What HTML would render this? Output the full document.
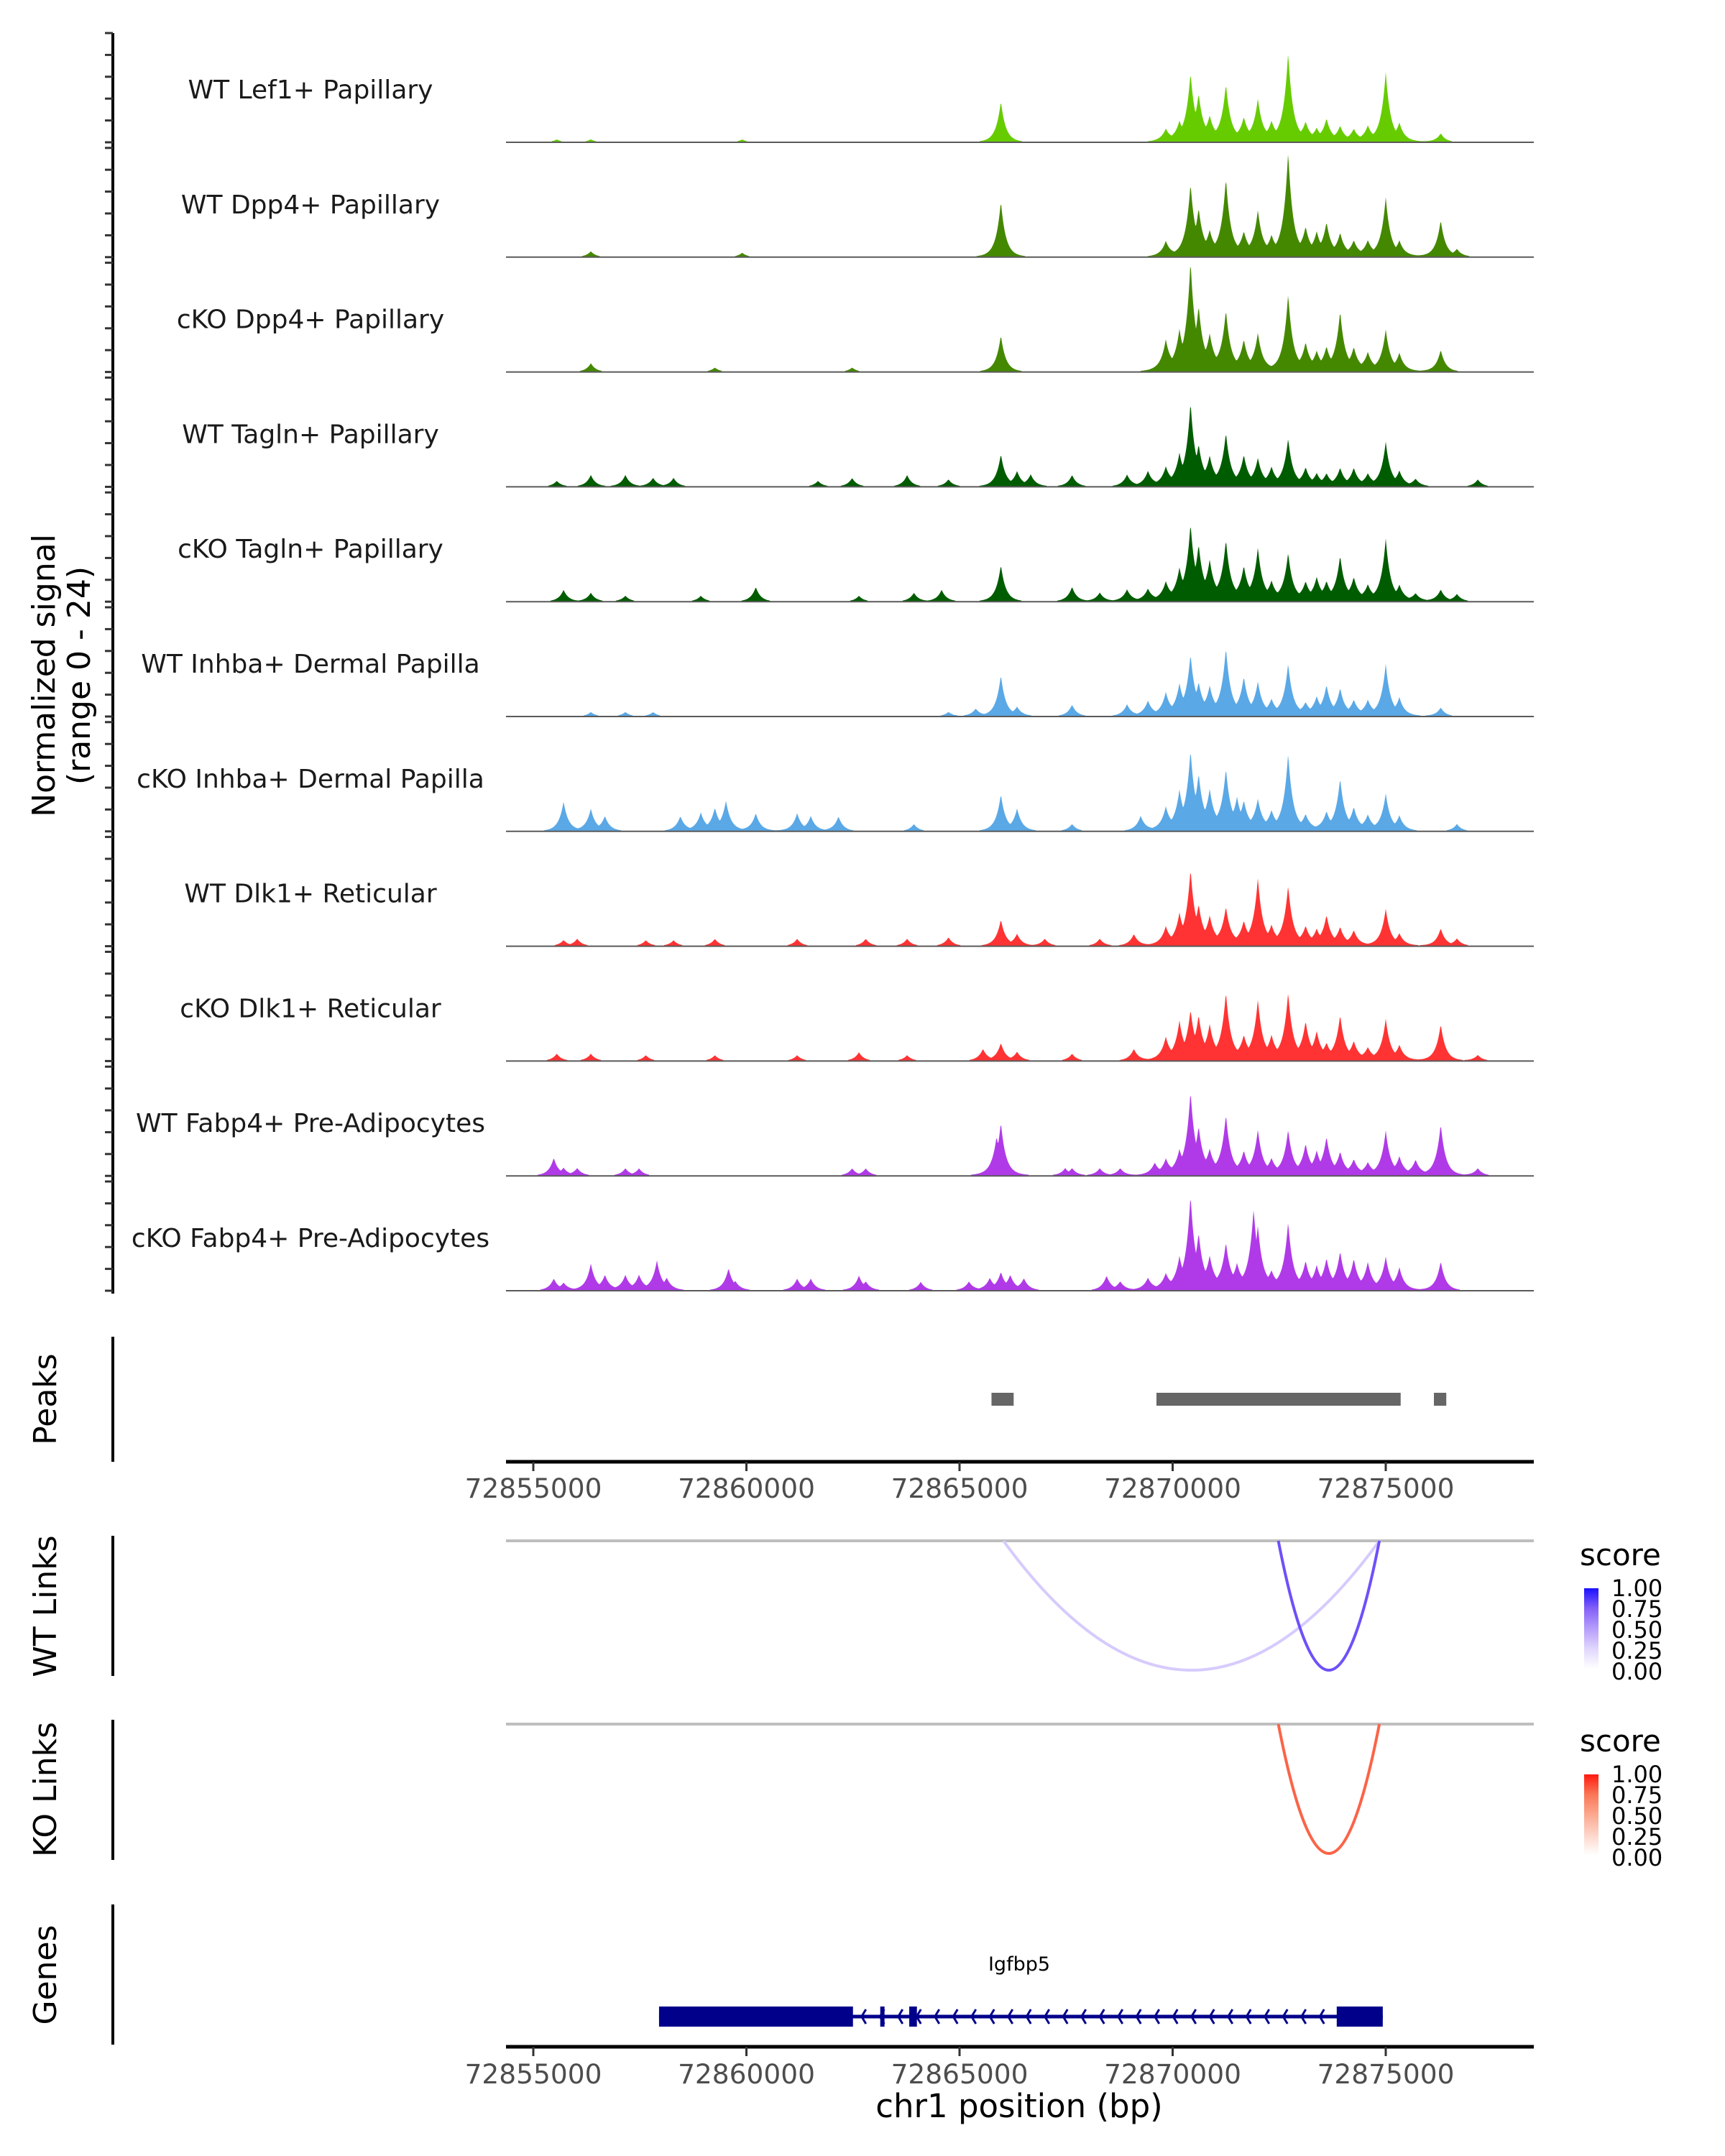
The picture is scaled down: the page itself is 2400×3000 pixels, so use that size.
<!DOCTYPE html>
<html><head><meta charset="utf-8">
<style>
html,body{margin:0;padding:0;background:#fff;}
svg{display:block;font-family:"DejaVu Sans","Liberation Sans",sans-serif;}
</style></head>
<body>
<svg id="chart" width="2400" height="3000" viewBox="0 0 2400 3000" xmlns="http://www.w3.org/2000/svg">
<rect x="0" y="0" width="2400" height="3000" fill="#fff"/>
<g id="tracks"></g>
<g id="yaxis"></g>
<text transform="translate(80,940) rotate(-90)" text-anchor="middle" font-size="44" fill="#000"><tspan x="0" dy="-4">Normalized signal</tspan><tspan x="0" dy="49">(range 0 - 24)</tspan></text>

<g>
<line x1="157" y1="1860" x2="157" y2="2034" stroke="#000" stroke-width="4"/>
<text transform="translate(66,1947) rotate(-90)" text-anchor="middle" font-size="44" dominant-baseline="middle">Peaks</text>
<g id="peaks"></g>
</g>
<g id="xaxis1"></g>

<g>
<line x1="157" y1="2137" x2="157" y2="2332" stroke="#000" stroke-width="4"/>
<text transform="translate(66,2235) rotate(-90)" text-anchor="middle" font-size="44" dominant-baseline="middle">WT Links</text>
<line x1="704" y1="2144" x2="2134" y2="2144" stroke="#bebebe" stroke-width="4"/>
<g id="wtlinks"></g>
</g>
<g>
<line x1="157" y1="2393" x2="157" y2="2588" stroke="#000" stroke-width="4"/>
<text transform="translate(66,2490) rotate(-90)" text-anchor="middle" font-size="44" dominant-baseline="middle">KO Links</text>
<line x1="704" y1="2399" x2="2134" y2="2399" stroke="#bebebe" stroke-width="4"/>
<g id="kolinks"></g>
</g>

<defs>
<linearGradient id="gblue" x1="0" y1="1" x2="0" y2="0">
<stop offset="0" stop-color="#ffffff"/><stop offset="0.25" stop-color="#e0d6fd"/><stop offset="0.5" stop-color="#b59dfc"/><stop offset="0.75" stop-color="#8460f8"/><stop offset="1" stop-color="#1a10ff"/>
</linearGradient>
<linearGradient id="gred" x1="0" y1="1" x2="0" y2="0">
<stop offset="0" stop-color="#ffffff"/><stop offset="0.25" stop-color="#fdd5c9"/><stop offset="0.5" stop-color="#fca88f"/><stop offset="0.75" stop-color="#fa7656"/><stop offset="1" stop-color="#ff1a10"/>
</linearGradient>
</defs>
<g>
<text x="2198" y="2178" font-size="42">score</text>
<rect x="2204" y="2210" width="20" height="112" fill="url(#gblue)"/>
<g font-size="32">
<text x="2242" y="2221">1.00</text><text x="2242" y="2250">0.75</text><text x="2242" y="2279">0.50</text><text x="2242" y="2308">0.25</text><text x="2242" y="2337">0.00</text>
</g>
</g>
<g>
<text x="2198" y="2437" font-size="42">score</text>
<rect x="2204" y="2469" width="20" height="112" fill="url(#gred)"/>
<g font-size="32">
<text x="2242" y="2480">1.00</text><text x="2242" y="2509">0.75</text><text x="2242" y="2538">0.50</text><text x="2242" y="2567">0.25</text><text x="2242" y="2596">0.00</text>
</g>
</g>

<g>
<line x1="157" y1="2650" x2="157" y2="2845" stroke="#000" stroke-width="4"/>
<text transform="translate(66,2748) rotate(-90)" text-anchor="middle" font-size="44" dominant-baseline="middle">Genes</text>
<g id="gene"></g>
</g>
<g id="xaxis2"></g>
<text x="1418" y="2946" text-anchor="middle" font-size="45">chr1 position (bp)</text>
</svg>
<script>
// ---- data ----
const xTicks = [72855000, 72860000, 72865000, 72870000, 72875000];
const trackNames = ["WT Lef1+ Papillary","WT Dpp4+ Papillary","cKO Dpp4+ Papillary","WT Tagln+ Papillary","cKO Tagln+ Papillary","WT Inhba+ Dermal Papilla","cKO Inhba+ Dermal Papilla","WT Dlk1+ Reticular","cKO Dlk1+ Reticular","WT Fabp4+ Pre-Adipocytes","cKO Fabp4+ Pre-Adipocytes"];
const trackColors = ["#66cc00","#448800","#448800","#005c00","#005c00","#5aa8e6","#5aa8e6","#ff3333","#ff3333","#b03ae8","#b03ae8"];
// peak positions (kb offset from 72855000) and heights (signal) per track
const pos0 = [0.55,1.35,4.9,10.97,14.84,15.16,15.42,15.61,15.87,16.25,16.67,17.0,17.32,17.71,18.12,18.38,18.61,18.93,19.25,19.58,20.0,20.32,21.29];
const val0 = [2,2,2,28,8,12,45,30,15,38,15,28,12,60,12,8,15,10,8,10,47,12,6];
const pos1 = [1.35,4.9,10.97,14.84,15.42,15.61,15.87,16.25,16.67,17.0,17.32,17.71,18.12,18.38,18.61,18.93,19.25,19.58,20.0,20.32,21.29,21.67];
const val1 = [4,3,38,10,48,30,15,52,15,30,12,70,18,15,22,15,10,10,40,10,25,5];
const pos2 = [1.35,4.26,7.48,10.97,14.84,15.16,15.42,15.61,15.87,16.25,16.67,17.0,17.71,18.12,18.38,18.61,18.93,19.25,19.58,20.0,20.32,21.29];
const val2 = [6,3,3,25,20,25,72,40,22,40,20,25,52,18,12,15,40,15,12,28,12,15];
const pos3 = [0.55,1.35,2.16,2.81,3.29,6.68,7.48,8.77,9.74,10.97,11.35,11.67,12.64,13.93,14.42,14.84,15.16,15.42,15.61,15.87,16.25,16.67,17.0,17.32,17.71,18.12,18.38,18.61,18.93,19.25,19.58,20.0,20.32,20.7,22.16];
const val3 = [4,8,8,6,6,4,6,8,5,22,10,8,8,8,10,12,20,55,25,18,35,20,18,12,32,12,8,8,12,12,8,30,10,5,5];
const pos4 = [0.71,1.35,2.16,3.93,5.22,7.64,8.93,9.58,10.97,12.64,13.29,13.93,14.42,14.84,15.16,15.42,15.61,15.87,16.25,16.67,17.0,17.32,17.71,18.12,18.38,18.61,18.93,19.25,19.58,20.0,20.32,20.7,21.29,21.67];
const val4 = [8,6,4,4,10,4,6,8,25,10,6,8,8,12,20,50,35,25,40,22,35,12,32,12,15,12,30,15,10,42,10,5,8,5];
const pos5 = [1.35,2.16,2.81,9.74,10.38,10.97,11.35,12.64,13.93,14.42,14.84,15.16,15.42,15.61,15.87,16.25,16.67,17.0,17.32,17.71,18.12,18.38,18.61,18.93,19.25,19.58,20.0,20.32,21.29];
const val5 = [3,3,3,3,5,28,6,8,8,10,15,20,40,20,18,45,25,22,10,35,8,12,20,18,10,10,35,12,6];
const pos6 = [0.71,1.35,1.68,3.45,3.93,4.26,4.52,5.22,6.19,6.51,7.16,8.93,10.97,11.35,12.64,14.25,14.84,15.16,15.42,15.61,15.87,16.25,16.51,16.67,17.0,17.32,17.71,18.12,18.61,18.93,19.25,19.58,20.0,20.32,21.67];
const val6 = [20,15,10,10,12,15,20,12,12,10,10,5,25,15,5,10,15,25,52,35,25,40,20,18,20,12,52,10,12,35,15,10,25,10,5];
const pos7 = [0.71,1.03,2.64,3.29,4.26,6.19,7.8,8.77,9.74,10.97,11.35,12.0,13.29,14.09,14.84,15.16,15.42,15.61,15.87,16.25,16.67,17.0,17.32,17.71,18.12,18.38,18.61,18.93,19.25,20.0,20.32,21.29,21.67];
const val7 = [4,5,4,4,5,5,5,5,6,18,8,5,5,8,12,20,50,25,18,25,15,45,12,40,12,10,20,12,10,25,8,12,5];
const pos8 = [0.55,1.35,2.64,4.26,6.19,7.64,8.77,10.55,10.97,11.35,12.64,14.09,14.84,15.16,15.42,15.61,15.87,16.25,16.67,17.0,17.32,17.71,18.12,18.38,18.61,18.93,19.25,19.58,20.0,20.32,21.29,22.16];
const val8 = [5,5,4,4,4,6,4,8,12,6,5,8,15,25,32,28,22,45,15,40,15,45,25,18,10,30,12,8,28,10,25,4];
const pos9 = [0.48,0.71,1.03,2.16,2.48,7.48,7.8,10.87,10.97,12.48,12.64,13.29,13.77,14.58,14.84,15.16,15.42,15.61,15.87,16.25,16.67,17.0,17.32,17.71,18.12,18.38,18.61,18.93,19.25,19.58,20.0,20.32,20.7,21.29,22.16];
const val9 = [12,5,5,5,5,5,5,25,35,5,5,5,5,8,10,15,55,30,15,40,15,30,10,30,20,15,25,15,10,8,30,12,10,35,5];
const pos10 = [0.48,0.71,1.35,1.68,2.16,2.48,2.9,3.13,4.58,4.74,6.19,6.51,7.64,7.8,9.09,10.22,10.71,10.97,11.19,11.51,13.45,13.77,14.42,14.84,15.16,15.42,15.61,15.87,16.25,16.51,16.9,17.0,17.32,17.71,18.12,18.38,18.61,18.93,19.25,19.58,20.0,20.32,21.29];
const val10 = [8,5,18,10,10,10,20,8,15,6,8,8,10,6,6,6,8,12,10,8,10,6,8,10,20,62,35,20,30,15,52,40,10,45,18,15,20,25,20,18,22,15,20];
const trackPos = [pos0,pos1,pos2,pos3,pos4,pos5,pos6,pos7,pos8,pos9,pos10];
const trackVal = [val0,val1,val2,val3,val4,val5,val6,val7,val8,val9,val10];
const peakStart = [72865750, 72869620, 72876130];
const peakEnd = [72866270, 72875350, 72876420];
const wtLinkStart = [72866030, 72872480];
const wtLinkEnd = [72874850, 72874850];
const wtLinkScore = [0.3, 0.8];
const koLinkStart = [72872480];
const koLinkEnd = [72874850];
const koLinkScore = [0.8];
const exonStart = [72857950, 72863140, 72863820, 72873850];
const exonEnd = [72862500, 72863240, 72864000, 72874930];
const geneStart = 72857950, geneEnd = 72874930, geneName = "Igfbp5";

// ---- scales ----
const NS = "http://www.w3.org/2000/svg";
const X0 = 704, X1 = 2134;
function xScale(bp){ return 742 + (bp - 72855000) * 0.0593; }
function xInv(px){ return 72855000 + (px - 742) / 0.0593; }
const yMax = 80, trackH = 152, base0 = 198, trackStep = 159.8;
function yScale(i, v){ return base0 + i*trackStep - Math.min(v, yMax)/yMax*trackH; }
function mk(tag, attrs, parent){ const e = document.createElementNS(NS, tag); for (const k in attrs) e.setAttribute(k, attrs[k]); parent.appendChild(e); return e; }

// ---- tracks ----
const tg = document.getElementById('tracks');
const ya = document.getElementById('yaxis');
const axl = mk('line', {x1:157, y1:46, x2:157, y2:1800, stroke:'#000', 'stroke-width':4}, ya);
for (let i = 0; i < trackNames.length; i++) {
  const b = base0 + i*trackStep;
  const g = mk('g', {}, tg);
  
  
  const lab = mk('text', {x:432, y:b-71, 'text-anchor':'middle', 'dominant-baseline':'middle', 'font-size':36, fill:'#1a1a1a'}, g);
  lab.textContent = trackNames[i];
  
  
  const P = trackPos[i], V = trackVal[i];
  let d = 'M' + X0 + ',' + b;
  for (let px = X0; px <= X1; px += 1) {
    const bp = xInv(px);
    let sharp = 0, broad = 0;
    for (let k = 0; k < P.length; k++) {
      const dist = Math.abs(bp - (72855000 + P[k]*1000));
      sharp = Math.max(sharp, V[k]*Math.exp(-dist/110));
      broad += V[k]*Math.exp(-dist/350);
    }
    let v = sharp + 0.08*broad;
    if (v < 0.8) v = 0;
    d += ' L' + px + ',' + yScale(i, v).toFixed(1);
  }
  d += ' L' + X1 + ',' + b + ' Z';
  const area = mk('path', {d:d, fill:trackColors[i]}, g);
  
  
  const bl = mk('line', {x1:X0, y1:b, x2:X1, y2:b, stroke:'#5a5a5a', 'stroke-width':2}, g);
  
  
  for (let t = 0; t <= 5; t++) {
    const ty = b - t*30.4;
    const tk = mk('line', {x1:146, y1:ty, x2:157, y2:ty, stroke:'#333', 'stroke-width':3}, ya);
    
    
  }
}

// ---- peaks ----
const pg = document.getElementById('peaks');
for (let i = 0; i < peakStart.length; i++) {
  const r = mk('rect', {x:xScale(peakStart[i]), y:1938, width:xScale(peakEnd[i])-xScale(peakStart[i]), height:18, fill:'#666'}, pg);
  
  
}

// ---- x axes ----
function drawAxis(gid, y, labY){
  const g = document.getElementById(gid);
  const l = mk('line', {x1:X0, y1:y, x2:X1, y2:y, stroke:'#000', 'stroke-width':5}, g);
  
  
  xTicks.forEach(t => {
    const x = xScale(t);
    const tk = mk('line', {x1:x, y1:y, x2:x, y2:y+13, stroke:'#333', 'stroke-width':3}, g);
    
    
    const tx = mk('text', {x:x, y:labY, 'text-anchor':'middle', 'font-size':37.5, fill:'#4d4d4d'}, g);
    tx.textContent = String(t);
    
    
  });
}
drawAxis('xaxis1', 2034, 2084);
drawAxis('xaxis2', 2848, 2899);

// ---- links ----
function scoreColor(s, stops){
  const idx = Math.min(3, Math.floor(s*4)), f = s*4 - idx;
  const a = stops[idx], b = stops[idx+1];
  const c = a.map((v,j) => Math.round(v + (b[j]-v)*f));
  return 'rgb(' + c.join(',') + ')';
}
const blueStops = [[255,255,255],[224,214,253],[181,157,252],[132,96,248],[26,16,255]];
const redStops = [[255,255,255],[253,213,201],[252,168,143],[250,118,86],[255,26,16]];
function drawLinks(gid, S, E, SC, top, stops){
  const g = document.getElementById(gid);
  const depth = 180;
  for (let i = 0; i < S.length; i++) {
    const x1 = xScale(S[i]), x2 = xScale(E[i]);
    const p = mk('path', {d:'M'+x1+','+top+' Q'+((x1+x2)/2)+','+(top+2*depth)+' '+x2+','+top, fill:'none', stroke:scoreColor(SC[i], stops), 'stroke-width':4}, g);
    
    
  }
}
drawLinks('wtlinks', wtLinkStart, wtLinkEnd, wtLinkScore, 2144, blueStops);
drawLinks('kolinks', koLinkStart, koLinkEnd, koLinkScore, 2399, redStops);

// ---- gene ----
const gg = document.getElementById('gene');
const gy = 2806;
const intr = mk('line', {x1:xScale(geneStart), y1:gy, x2:xScale(geneEnd), y2:gy, stroke:'#00008b', 'stroke-width':5}, gg);


for (let x = xScale(exonEnd[0]) + 12; x < xScale(exonStart[3]) - 8; x += 25.5) {
  const c = mk('path', {d:'M'+(x+6)+','+(gy-10)+' L'+x+','+gy+' L'+(x+6)+','+(gy+10), fill:'none', stroke:'#00008b', 'stroke-width':3}, gg);
  
  
}
for (let i = 0; i < exonStart.length; i++) {
  const r = mk('rect', {x:xScale(exonStart[i]), y:gy-14, width:xScale(exonEnd[i])-xScale(exonStart[i]), height:28, fill:'#00008b'}, gg);
  
  
}
const gl = mk('text', {x:1418, y:2742, 'text-anchor':'middle', 'font-size':27, fill:'#000'}, gg);
gl.textContent = geneName;


</script>
</body></html>
